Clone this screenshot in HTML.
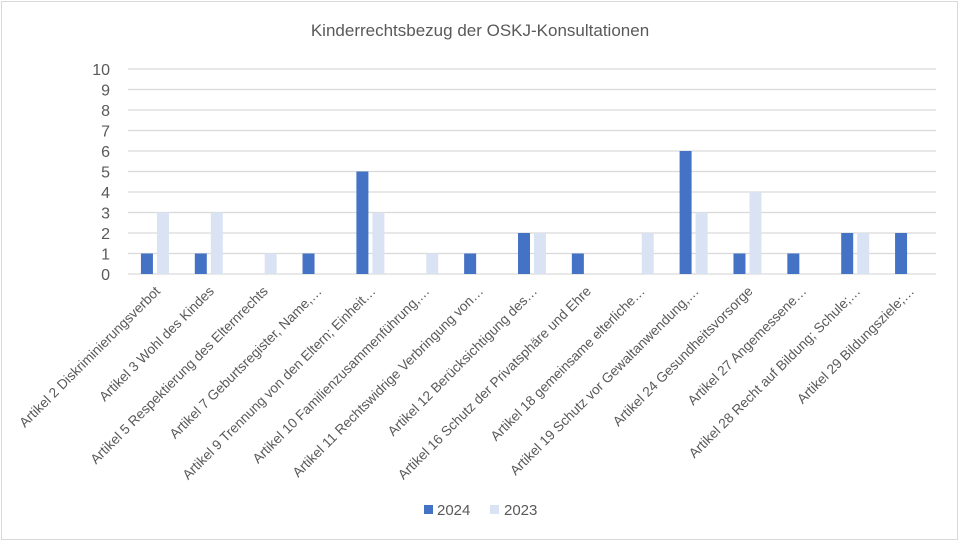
<!DOCTYPE html>
<html><head><meta charset="utf-8"><style>
body{margin:0;background:#fff;}
svg{display:block;font-family:"Liberation Sans",sans-serif;}
</style></head><body>
<svg width="960" height="543" viewBox="0 0 960 543">
<rect x="1.5" y="1.5" width="956" height="538" fill="#fff" stroke="#d9d9d9"/>
<text x="480" y="36" text-anchor="middle" font-size="17" fill="#595959">Kinderrechtsbezug der OSKJ-Konsultationen</text>
</svg>
<script>
const svg=document.querySelector('svg');
const ns='http://www.w3.org/2000/svg';
function el(t,a,txt){const e=document.createElementNS(ns,t);for(const k in a)e.setAttribute(k,a[k]);if(txt!==undefined)e.textContent=txt;svg.appendChild(e);return e;}
const L=128,R=936,Y0=274,U=20.5;
for(let i=0;i<=10;i++){const y=Y0-i*U;
el('line',{x1:L,x2:R,y1:y,y2:y,stroke:'#d9d9d9','stroke-width':1.3});
el('text',{x:110,y:y+6,'text-anchor':'end','font-size':16,fill:'#595959'},String(i));}
const labels=["Artikel 2 Diskriminierungsverbot","Artikel 3 Wohl des Kindes","Artikel 5 Respektierung des Elternrechts","Artikel 7 Geburtsregister, Name,…","Artikel 9 Trennung von den Eltern; Einheit…","Artikel 10 Familienzusammenführung,…","Artikel 11 Rechtswidrige Verbringung von…","Artikel 12 Berücksichtigung des…","Artikel 16 Schutz der Privatsphäre und Ehre","Artikel 18 gemeinsame elterliche…","Artikel 19 Schutz vor Gewaltanwendung,…","Artikel 24 Gesundheitsvorsorge","Artikel 27 Angemessene…","Artikel 28 Recht auf Bildung; Schule;…","Artikel 29 Bildungsziele;…"];
const a=[1,1,0,1,5,0,1,2,1,0,6,1,1,2,2],b=[3,3,1,0,3,1,0,2,0,2,3,4,0,2,0];
const W=(R-L)/15;
for(let i=0;i<15;i++){const c=L+W*i+W/2;
if(a[i])el('rect',{x:c-14,y:Y0-a[i]*U,width:12,height:a[i]*U,fill:'#4472c4'});
if(b[i])el('rect',{x:c+2,y:Y0-b[i]*U,width:12,height:b[i]*U,fill:'#dae3f3'});
const x=c+6,y=292;
el('text',{x:x,y:y,'text-anchor':'end','font-size':13.7,fill:'#595959',transform:`rotate(-45 ${x} ${y})`},labels[i]);}
el('rect',{x:424,y:505,width:9,height:9,fill:'#4472c4'});
el('text',{x:437,y:515,'font-size':15,fill:'#595959'},'2024');
el('rect',{x:490,y:505,width:9,height:9,fill:'#dae3f3'});
el('text',{x:504,y:515,'font-size':15,fill:'#595959'},'2023');
</script>
</body></html>
